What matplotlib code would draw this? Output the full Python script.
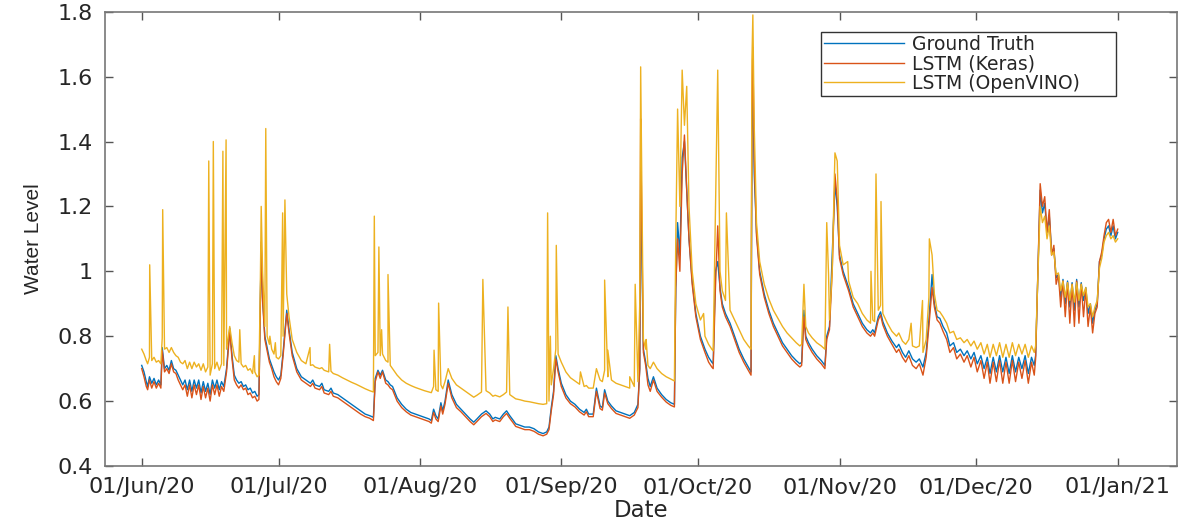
import datetime
import numpy as np
import matplotlib
matplotlib.use("Agg")
import matplotlib.pyplot as plt
import matplotlib.dates as mdates

# ---------------- data (days since 01/Jun/2020) ----------------
days = [0.0, 0.5, 1.0, 1.3, 1.7, 2.2, 2.7, 3.2, 3.7, 4.2, 4.5, 5.0, 5.5, 6.0, 6.5, 7.0, 7.5, 8.0, 8.5, 9.0,
        9.5, 10.0, 10.5, 11.0, 11.5, 12.0, 12.5, 13.0, 13.5, 14.0, 14.5, 15.0, 15.5, 16.0, 16.5, 17.0, 17.5, 18.0, 18.6, 19.3,
        19.8, 20.3, 20.8, 21.3, 21.8, 22.3, 22.8, 23.3, 23.8, 24.3, 24.8, 25.3, 25.7, 26.0, 26.2, 26.5, 27.0, 27.5, 28.0, 28.5,
        29.0, 29.5, 30.0, 30.5, 31.0, 31.8, 32.3, 33.0, 34.0, 35.0, 36.0, 37.0, 37.5, 38.0, 39.0, 39.5, 40.0, 41.0, 41.5, 42.0,
        43.0, 44.0, 45.0, 46.0, 47.0, 48.0, 49.0, 50.0, 50.8, 51.2, 51.8, 52.3, 52.8, 53.5, 54.0, 54.5, 55.0, 56.0, 57.0, 58.0,
        59.0, 60.0, 61.0, 62.0, 63.0, 63.5, 64.0, 64.5, 65.0, 65.6, 66.0, 66.5, 67.2, 68.0, 69.0, 70.0, 71.0, 72.0, 72.8, 73.5,
        74.5, 75.5, 76.3, 77.0, 77.5, 78.5, 79.3, 80.0, 80.7, 81.5, 82.0, 83.0, 84.0, 85.0, 86.0, 87.0, 88.0, 88.8, 89.3, 89.8,
        90.3, 90.8, 91.3, 92.0, 93.0, 94.0, 95.0, 96.0, 97.0, 97.5, 98.0, 99.0, 99.7, 100.5, 101.0, 101.5, 102.2, 103.0, 104.0, 105.0,
        106.0, 107.0, 108.0, 108.8, 109.2, 109.4, 109.6, 110.0, 110.5, 111.0, 111.5, 112.2, 113.0, 114.0, 115.0, 116.0, 116.8, 117.1, 117.5, 118.0,
        118.5, 119.0, 119.5, 120.0, 120.7, 121.5, 122.5, 123.5, 124.3, 125.0, 125.3, 125.8, 126.3, 126.8, 127.3, 128.0, 129.0, 130.0, 131.0, 132.0,
        133.0, 133.6, 133.8, 134.0, 134.3, 134.8, 135.5, 136.5, 137.5, 138.5, 139.5, 140.5, 141.5, 142.5, 143.5, 144.3, 144.7, 145.2, 145.6, 146.2,
        147.0, 148.0, 149.0, 149.8, 150.2, 150.8, 151.4, 152.0, 152.5, 153.0, 153.8, 155.0, 156.0, 157.0, 158.0, 159.0, 159.8, 160.3, 160.7, 161.5,
        162.0, 162.5, 163.5, 164.5, 165.5, 166.0, 166.8, 167.5, 168.2, 169.0, 169.8, 170.5, 171.3, 172.0, 172.6, 173.3, 173.8, 174.4, 175.0, 175.7,
        176.5, 177.2, 178.0, 178.7, 179.5, 180.3, 181.0, 181.8, 182.5, 183.2, 184.0, 184.7, 185.4, 186.0, 186.7, 187.4, 188.1, 188.8, 189.5, 190.2,
        190.9, 191.6, 192.3, 193.0, 193.7, 194.4, 195.1, 195.7, 196.0, 196.5, 197.0, 197.5, 198.0, 198.5, 199.0, 199.5, 200.0, 200.5, 201.0, 201.5,
        202.0, 202.5, 203.0, 203.5, 204.0, 204.5, 205.0, 205.5, 206.0, 206.5, 207.0, 207.5, 208.0, 208.5, 209.0, 209.5, 210.0, 210.5, 211.0, 211.5,
        212.0, 212.5, 213.0, 213.5, 214.0]

ground_truth = [0.710, 0.690, 0.660, 0.645, 0.675, 0.655, 0.670, 0.650, 0.665, 0.650, 0.765, 0.700, 0.710, 0.695, 0.725, 0.700, 0.695, 0.680, 0.665, 0.650,
                0.665, 0.635, 0.665, 0.630, 0.665, 0.640, 0.665, 0.625, 0.660, 0.630, 0.655, 0.620, 0.665, 0.640, 0.665, 0.635, 0.660, 0.645, 0.700, 0.825,
                0.740, 0.680, 0.665, 0.655, 0.660, 0.645, 0.650, 0.635, 0.640, 0.625, 0.630, 0.615, 0.620, 0.900, 1.080, 0.920, 0.800, 0.765, 0.730, 0.710,
                0.690, 0.675, 0.665, 0.680, 0.750, 0.880, 0.820, 0.750, 0.700, 0.675, 0.665, 0.655, 0.665, 0.650, 0.645, 0.655, 0.635, 0.630, 0.640, 0.625,
                0.620, 0.610, 0.600, 0.590, 0.580, 0.570, 0.560, 0.555, 0.550, 0.670, 0.695, 0.680, 0.695, 0.665, 0.660, 0.650, 0.645, 0.610, 0.590, 0.575,
                0.565, 0.560, 0.555, 0.550, 0.545, 0.540, 0.575, 0.555, 0.545, 0.595, 0.570, 0.600, 0.665, 0.620, 0.590, 0.575, 0.560, 0.545, 0.535, 0.545,
                0.560, 0.570, 0.560, 0.545, 0.550, 0.545, 0.560, 0.570, 0.555, 0.540, 0.530, 0.525, 0.520, 0.520, 0.515, 0.505, 0.500, 0.505, 0.520, 0.580,
                0.630, 0.740, 0.700, 0.655, 0.620, 0.600, 0.590, 0.575, 0.565, 0.575, 0.560, 0.560, 0.640, 0.585, 0.580, 0.635, 0.600, 0.585, 0.570, 0.565,
                0.560, 0.555, 0.565, 0.590, 0.700, 1.250, 1.100, 0.760, 0.720, 0.670, 0.645, 0.675, 0.640, 0.620, 0.605, 0.595, 0.590, 0.950, 1.150, 1.050,
                1.350, 1.400, 1.250, 1.100, 0.970, 0.870, 0.800, 0.760, 0.735, 0.720, 0.715, 1.000, 1.030, 0.950, 0.900, 0.870, 0.840, 0.800, 0.760, 0.730,
                0.705, 0.690, 1.400, 1.600, 1.300, 1.120, 1.000, 0.930, 0.880, 0.840, 0.810, 0.780, 0.760, 0.740, 0.725, 0.715, 0.720, 0.880, 0.800, 0.780,
                0.760, 0.740, 0.725, 0.710, 0.800, 0.830, 1.050, 1.270, 1.200, 1.050, 1.000, 0.950, 0.900, 0.870, 0.840, 0.820, 0.810, 0.820, 0.810, 0.860,
                0.875, 0.845, 0.810, 0.785, 0.765, 0.775, 0.750, 0.735, 0.755, 0.730, 0.720, 0.730, 0.705, 0.750, 0.850, 0.990, 0.900, 0.860, 0.855, 0.830,
                0.810, 0.770, 0.780, 0.750, 0.760, 0.740, 0.755, 0.730, 0.750, 0.715, 0.740, 0.700, 0.735, 0.685, 0.735, 0.690, 0.740, 0.690, 0.735, 0.685,
                0.740, 0.690, 0.735, 0.700, 0.740, 0.685, 0.735, 0.710, 0.740, 1.000, 1.250, 1.180, 1.210, 1.120, 1.170, 1.060, 1.070, 0.980, 0.990, 0.920,
                0.975, 0.900, 0.970, 0.890, 0.965, 0.880, 0.975, 0.890, 0.965, 0.910, 0.950, 0.870, 0.900, 0.840, 0.880, 0.900, 1.030, 1.050, 1.100, 1.130,
                1.140, 1.110, 1.140, 1.100, 1.120]

keras = [0.700, 0.675, 0.645, 0.635, 0.665, 0.640, 0.660, 0.640, 0.655, 0.640, 0.755, 0.690, 0.700, 0.685, 0.715, 0.690, 0.685, 0.665, 0.650, 0.635,
         0.650, 0.615, 0.650, 0.610, 0.650, 0.620, 0.650, 0.605, 0.645, 0.610, 0.640, 0.600, 0.650, 0.620, 0.650, 0.615, 0.645, 0.630, 0.690, 0.815,
         0.730, 0.665, 0.650, 0.640, 0.650, 0.635, 0.640, 0.620, 0.625, 0.610, 0.615, 0.600, 0.605, 0.880, 1.090, 0.910, 0.790, 0.755, 0.720, 0.700,
         0.675, 0.660, 0.650, 0.670, 0.740, 0.870, 0.810, 0.740, 0.690, 0.665, 0.655, 0.645, 0.655, 0.640, 0.635, 0.645, 0.625, 0.620, 0.630, 0.615,
         0.610, 0.600, 0.590, 0.580, 0.570, 0.560, 0.552, 0.547, 0.540, 0.660, 0.690, 0.670, 0.690, 0.655, 0.650, 0.640, 0.635, 0.600, 0.580, 0.567,
         0.557, 0.552, 0.547, 0.542, 0.537, 0.532, 0.565, 0.545, 0.537, 0.585, 0.560, 0.590, 0.655, 0.610, 0.580, 0.567, 0.552, 0.537, 0.527, 0.537,
         0.552, 0.562, 0.552, 0.537, 0.542, 0.537, 0.552, 0.562, 0.547, 0.532, 0.522, 0.517, 0.512, 0.512, 0.507, 0.498, 0.493, 0.498, 0.512, 0.570,
         0.620, 0.730, 0.690, 0.645, 0.610, 0.592, 0.582, 0.567, 0.557, 0.567, 0.552, 0.552, 0.630, 0.577, 0.572, 0.625, 0.592, 0.577, 0.562, 0.557,
         0.552, 0.547, 0.557, 0.580, 0.700, 1.470, 1.200, 0.750, 0.710, 0.650, 0.630, 0.665, 0.630, 0.612, 0.597, 0.587, 0.582, 0.950, 1.100, 1.000,
         1.300, 1.420, 1.250, 1.100, 0.960, 0.860, 0.790, 0.750, 0.720, 0.705, 0.700, 0.950, 1.140, 0.940, 0.890, 0.860, 0.830, 0.790, 0.750, 0.720,
         0.695, 0.680, 1.500, 1.690, 1.350, 1.110, 0.990, 0.920, 0.870, 0.830, 0.800, 0.770, 0.750, 0.730, 0.715, 0.705, 0.710, 0.860, 0.790, 0.770,
         0.750, 0.730, 0.715, 0.700, 0.790, 0.820, 1.000, 1.300, 1.220, 1.040, 0.990, 0.940, 0.890, 0.860, 0.830, 0.810, 0.800, 0.810, 0.800, 0.850,
         0.865, 0.835, 0.800, 0.775, 0.750, 0.760, 0.735, 0.720, 0.740, 0.710, 0.700, 0.715, 0.680, 0.735, 0.830, 0.950, 0.890, 0.850, 0.840, 0.815,
         0.790, 0.750, 0.765, 0.730, 0.745, 0.720, 0.740, 0.705, 0.735, 0.690, 0.725, 0.670, 0.720, 0.655, 0.720, 0.660, 0.725, 0.655, 0.720, 0.655,
         0.725, 0.660, 0.720, 0.670, 0.725, 0.655, 0.720, 0.680, 0.730, 1.000, 1.270, 1.200, 1.230, 1.120, 1.190, 1.050, 1.080, 0.960, 0.990, 0.890,
         0.970, 0.860, 0.965, 0.840, 0.960, 0.830, 0.970, 0.840, 0.960, 0.860, 0.945, 0.830, 0.890, 0.810, 0.870, 0.890, 1.030, 1.060, 1.110, 1.150,
         1.160, 1.120, 1.160, 1.110, 1.130]

openvino = [0.760, 0.745, 0.725, 0.715, 0.735, 0.725, 0.735, 0.720, 0.725, 0.715, 0.795, 0.760, 0.765, 0.750, 0.765, 0.750, 0.740, 0.735, 0.720, 0.715,
            0.725, 0.700, 0.720, 0.700, 0.720, 0.705, 0.715, 0.695, 0.715, 0.690, 0.705, 0.680, 0.715, 0.700, 0.720, 0.695, 0.715, 0.710, 0.760, 0.830,
            0.780, 0.740, 0.725, 0.720, 0.715, 0.705, 0.710, 0.695, 0.700, 0.685, 0.690, 0.675, 0.680, 0.950, 1.200, 1.000, 0.830, 0.800, 0.775, 0.760,
            0.745, 0.735, 0.730, 0.740, 0.800, 0.930, 0.860, 0.790, 0.750, 0.725, 0.715, 0.710, 0.712, 0.705, 0.700, 0.703, 0.695, 0.690, 0.692, 0.685,
            0.680, 0.672, 0.665, 0.658, 0.652, 0.645, 0.638, 0.632, 0.628, 0.740, 0.750, 0.740, 0.745, 0.725, 0.720, 0.710, 0.700, 0.680, 0.665, 0.655,
            0.648, 0.642, 0.637, 0.632, 0.628, 0.626, 0.645, 0.635, 0.630, 0.650, 0.638, 0.660, 0.700, 0.670, 0.650, 0.640, 0.630, 0.620, 0.612, 0.618,
            0.628, 0.632, 0.625, 0.615, 0.618, 0.613, 0.620, 0.628, 0.620, 0.612, 0.607, 0.604, 0.600, 0.598, 0.595, 0.592, 0.590, 0.592, 0.600, 0.650,
            0.700, 0.760, 0.745, 0.720, 0.690, 0.672, 0.662, 0.652, 0.645, 0.648, 0.640, 0.640, 0.700, 0.665, 0.660, 0.695, 0.675, 0.665, 0.655, 0.650,
            0.645, 0.640, 0.645, 0.660, 0.900, 1.630, 1.350, 0.790, 0.760, 0.710, 0.700, 0.720, 0.700, 0.685, 0.675, 0.668, 0.662, 1.100, 1.500, 1.200,
            1.620, 1.450, 1.570, 1.200, 1.000, 0.900, 0.850, 0.800, 0.775, 0.760, 0.755, 1.180, 1.620, 1.000, 0.940, 0.910, 0.880, 0.850, 0.820, 0.790,
            0.770, 0.760, 1.650, 1.790, 1.450, 1.150, 1.030, 0.960, 0.915, 0.880, 0.855, 0.830, 0.810, 0.795, 0.780, 0.770, 0.775, 0.960, 0.830, 0.810,
            0.795, 0.780, 0.770, 0.760, 1.150, 0.850, 1.000, 1.365, 1.340, 1.080, 1.020, 0.970, 0.920, 0.900, 0.870, 0.850, 0.840, 0.850, 0.845, 0.880,
            0.895, 0.870, 0.840, 0.815, 0.800, 0.810, 0.785, 0.775, 0.790, 0.770, 0.765, 0.770, 0.750, 0.790, 0.920, 1.050, 0.930, 0.880, 0.875, 0.860,
            0.840, 0.810, 0.815, 0.790, 0.795, 0.780, 0.790, 0.770, 0.785, 0.760, 0.780, 0.745, 0.775, 0.735, 0.775, 0.740, 0.780, 0.735, 0.775, 0.735,
            0.780, 0.740, 0.775, 0.745, 0.775, 0.735, 0.770, 0.750, 0.770, 0.980, 1.200, 1.150, 1.170, 1.100, 1.140, 1.050, 1.060, 0.990, 0.995, 0.940,
            0.970, 0.920, 0.965, 0.910, 0.960, 0.905, 0.965, 0.910, 0.960, 0.925, 0.950, 0.890, 0.900, 0.860, 0.890, 0.910, 1.010, 1.040, 1.090, 1.110,
            1.120, 1.100, 1.110, 1.090, 1.100]

# isolated OpenVINO spikes (day, value)
ov_spike_days = [1.75, 4.6, 14.7, 15.7, 17.8, 18.5, 21.5, 24.7, 27.2, 28.1, 29.3, 30.9, 31.4, 36.9, 41.2,
                 51.0, 52.0, 52.6, 54.0, 64.1, 65.1, 74.8, 80.3, 89.0, 89.6, 90.9, 96.2, 101.5, 102.2, 107.0,
                 108.2, 110.6, 123.2, 128.2, 150.6, 154.8, 159.9, 161.0, 162.1, 168.7, 171.2, 172.7]
ov_spike_vals = [1.02, 1.19, 1.34, 1.40, 1.37, 1.405, 0.82, 0.74, 1.44, 0.80, 0.78, 1.18, 1.22, 0.765, 0.775,
                 1.17, 1.075, 0.82, 0.99, 0.757, 0.902, 0.975, 0.89, 1.18, 0.80, 1.08, 0.69, 0.973, 0.757, 0.675,
                 0.96, 0.79, 0.87, 1.18, 0.99, 1.03, 1.00, 1.30, 1.215, 0.84, 0.91, 1.10]

series_names = ["Ground Truth", "LSTM (Keras)", "LSTM (OpenVINO)"]
series_colors = ["#0072BD", "#D95319", "#EDB120"]
y_ticks = [0.4, 0.6, 0.8, 1.0, 1.2, 1.4, 1.6, 1.8]
y_tick_labels = ["0.4", "0.6", "0.8", "1", "1.2", "1.4", "1.6", "1.8"]
start_date = datetime.datetime(2020, 6, 1)

assert len(days) == len(ground_truth) == len(keras) == len(openvino)
assert len(ov_spike_days) == len(ov_spike_vals)

# ---------------- figure ----------------
plt.rcParams["font.family"] = ["DejaVu Sans"]
W, H = 1192, 526
fig = plt.figure(figsize=(W / 100, H / 100), dpi=100)
ax = fig.add_axes([105 / W, 1 - 466 / H, (1177 - 105) / W, (466 - 11.7) / H])

def to_dates(ds):
    return [start_date + datetime.timedelta(days=float(d)) for d in ds]

ov_d = np.concatenate([days, ov_spike_days])
ov_v = np.concatenate([openvino, ov_spike_vals])
order = np.argsort(ov_d, kind="stable")

ax.plot(to_dates(days), ground_truth, color=series_colors[0], lw=1.0, label=series_names[0])
ax.plot(to_dates(days), keras, color=series_colors[1], lw=1.0, label=series_names[1])
ax.plot(to_dates(ov_d[order]), ov_v[order], color=series_colors[2], lw=1.0, label=series_names[2])

ax.set_xlim(start_date - datetime.timedelta(days=8.05), start_date + datetime.timedelta(days=227.0))
ax.set_ylim(0.4, 1.8)
ax.set_yticks(y_ticks)
ax.set_yticklabels(y_tick_labels)
ax.xaxis.set_major_locator(mdates.MonthLocator(bymonthday=1))
ax.xaxis.set_major_formatter(mdates.DateFormatter("%d/%b/%y"))

text_col = "#262626"
ax.tick_params(axis="both", direction="in", length=6, width=1.0, colors="#555555",
               labelcolor=text_col, labelsize=16, top=True, right=True)
ax.tick_params(axis="x", pad=8)
ax.tick_params(axis="y", pad=9)
for s in ax.spines.values():
    s.set_color("#777777")
    s.set_linewidth(1.2)

ax.set_xlabel("Date", fontsize=16.5, color=text_col)
ax.xaxis.set_label_coords(0.5, -0.073)
ax.set_ylabel("Water Level", fontsize=15, color=text_col, family=["Liberation Sans"])
ax.yaxis.set_label_coords(-0.058, 0.5)

leg_x0, leg_y1, leg_w, leg_h = 820.7 / W, 1 - 32 / H, (1116 - 820.7) / W, 63 / H
leg = ax.legend(loc="upper left", bbox_to_anchor=(leg_x0, leg_y1 - leg_h, leg_w, leg_h),
                bbox_transform=fig.transFigure, borderaxespad=0, fontsize=13.5, mode="expand",
                frameon=True, fancybox=False, shadow=False, framealpha=1,
                handlelength=4.3, handletextpad=0.4, labelspacing=0.03,
                borderpad=0.15)
leg.get_frame().set_edgecolor("#333333")
leg.get_frame().set_linewidth(1.0)
for t in leg.get_texts():
    t.set_color(text_col)

fig.savefig("out.png", dpi=100)
